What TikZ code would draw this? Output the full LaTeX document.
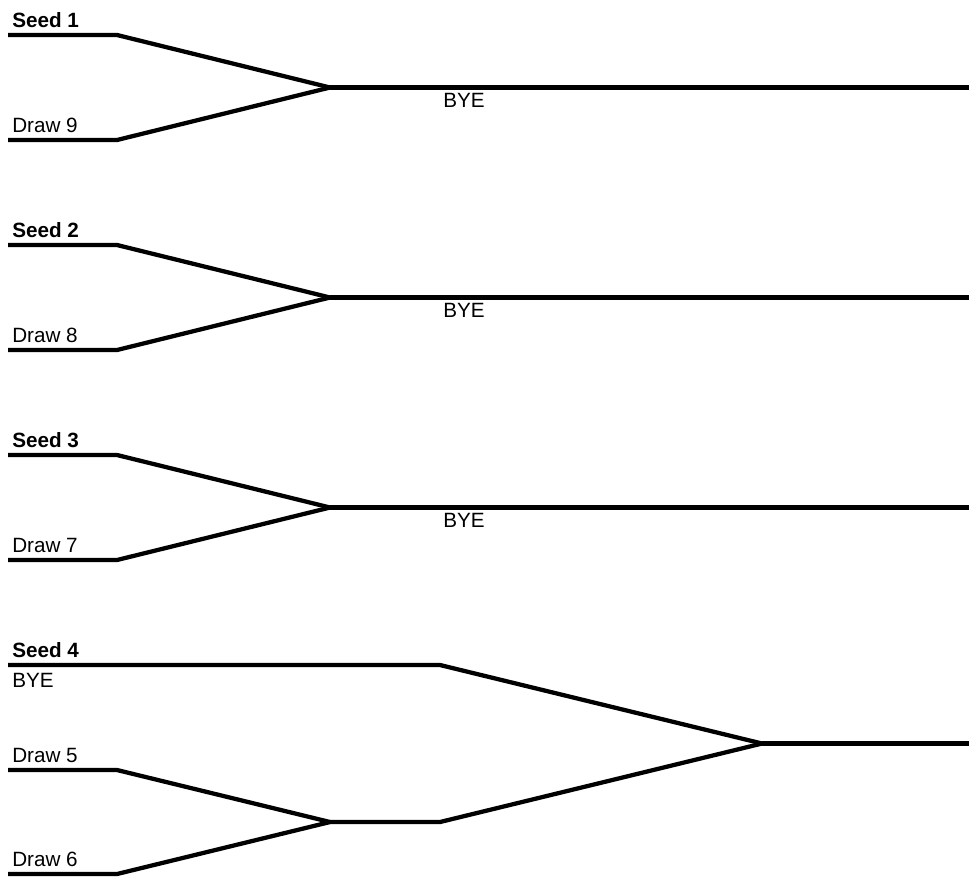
\documentclass[tikz,border=0pt]{standalone}
\usepackage{fontspec}
\setmainfont{Liberation Sans}
\usetikzlibrary{positioning}

\begin{document}
\begin{tikzpicture}[
  x=0.75pt, y=-0.75pt,
  line/.style={line width=3.2pt, line join=round},
  seedlbl/.style={anchor=base west, inner sep=0pt, font=\bfseries\fontsize{15.5}{18}\selectfont},
  drawlbl/.style={anchor=base west, inner sep=0pt, font=\fontsize{15.5}{18}\selectfont}
]
\useasboundingbox (0,0) rectangle (969,876);
% bracket 1
\coordinate (s1) at (8,35);
\coordinate (s1e) at (117,35);
\coordinate (d9) at (8,140);
\coordinate (d9e) at (117,140);
\coordinate (m1) at (330,87.5);
\coordinate (o1) at (969,87.5);
\node[seedlbl] (seed1) at (12,27) {Seed 1};
\node[drawlbl] (draw9) at (12,132) {Draw 9};
\node[drawlbl] (bye1) at (443,107) {BYE};
\draw[line] (s1) -- (s1e) -- (m1);
\draw[line] (d9) -- (d9e) -- (m1);
\draw[line] (m1) -- (o1);
% bracket 2
\coordinate (s2) at (8,245);
\coordinate (s2e) at (117,245);
\coordinate (d8) at (8,350);
\coordinate (d8e) at (117,350);
\coordinate (m2) at (330,297.5);
\coordinate (o2) at (969,297.5);
\node[seedlbl] (seed2) at (12,237) {Seed 2};
\node[drawlbl] (draw8) at (12,342) {Draw 8};
\node[drawlbl] (bye2) at (443,317) {BYE};
\draw[line] (s2) -- (s2e) -- (m2);
\draw[line] (d8) -- (d8e) -- (m2);
\draw[line] (m2) -- (o2);
% bracket 3
\coordinate (s3) at (8,455);
\coordinate (s3e) at (117,455);
\coordinate (d7) at (8,560);
\coordinate (d7e) at (117,560);
\coordinate (m3) at (330,507.5);
\coordinate (o3) at (969,507.5);
\node[seedlbl] (seed3) at (12,447) {Seed 3};
\node[drawlbl] (draw7) at (12,552) {Draw 7};
\node[drawlbl] (bye3) at (443,527) {BYE};
\draw[line] (s3) -- (s3e) -- (m3);
\draw[line] (d7) -- (d7e) -- (m3);
\draw[line] (m3) -- (o3);
% bracket 4
\coordinate (s4) at (8,665);
\coordinate (s4e) at (440,665);
\coordinate (d5) at (8,770);
\coordinate (d5e) at (117,770);
\coordinate (d6) at (8,874);
\coordinate (d6e) at (117,874);
\coordinate (m56) at (330,822);
\coordinate (m56e) at (440,822);
\coordinate (m4) at (762,743.5);
\coordinate (o4) at (969,743.5);
\node[seedlbl] (seed4) at (12,657) {Seed 4};
\node[drawlbl] (bye4) at (12,687) {BYE};
\node[drawlbl] (draw5) at (12,762) {Draw 5};
\node[drawlbl] (draw6) at (12,866) {Draw 6};
\draw[line] (d5) -- (d5e) -- (m56);
\draw[line] (d6) -- (d6e) -- (m56);
\draw[line] (m56) -- (m56e) -- (m4);
\draw[line] (s4) -- (s4e) -- (m4);
\draw[line] (m4) -- (o4);
\end{tikzpicture}
\end{document}
